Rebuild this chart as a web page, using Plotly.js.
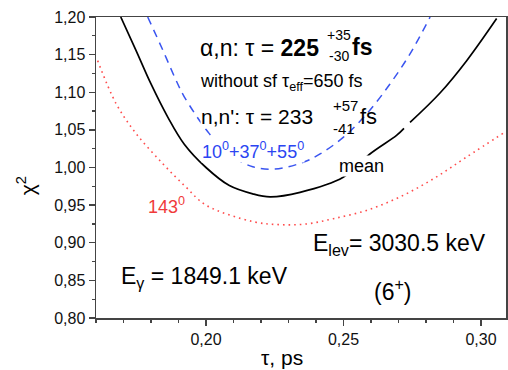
<!DOCTYPE html>
<html>
<head>
<meta charset="utf-8">
<script src="https://cdn.plot.ly/plotly-3.0.1.min.js"></script>
<style>html,body{margin:0;padding:0;background:#fff;}#chart{width:508px;height:370px;}</style>
</head>
<body>
<div id="chart"></div>
<script>
// ---- data ----
const tauMean = [0.1690,0.1745,0.1800,0.1861,0.1921,0.2000,0.2085,0.2170,0.2233,0.2342,0.2499,0.2596,0.2694,0.2720,null,0.2742,0.2851,0.2948,0.3057];
const chiMean = [1.200,1.156,1.111,1.067,1.031,1.000,0.976,0.965,0.961,0.967,0.987,1.018,1.043,1.052,null,1.060,1.099,1.142,1.198];

const tauBlue = [0.1788,0.1843,0.1891,0.1921,0.2012,0.2087,0.2170,0.2251,0.2354,0.2415,0.2499,0.2584,0.2669,0.2742,0.2815];
const chiBlue = [1.200,1.156,1.116,1.094,1.045,1.017,1.001,0.998,1.007,1.018,1.040,1.071,1.111,1.151,1.200];

const tauRed = [0.1606,0.1673,0.1746,0.1843,0.1927,0.2000,0.2172,0.2269,0.2366,0.2463,0.2584,0.2706,0.2827,0.2948,0.3087];
const chiRed = [1.142,1.085,1.045,1.005,0.974,0.950,0.928,0.924,0.925,0.932,0.943,0.961,0.985,1.014,1.047];

const xTickVals = [0.20,0.25,0.30];
const xTickText = ['0,20','0,25','0,30'];
const yTickVals = [0.80,0.85,0.90,0.95,1.00,1.05,1.10,1.15,1.20];
const yTickText = ['0,80','0,85','0,90','0,95','1,00','1,05','1,10','1,15','1,20'];

// ---- drawing ----
const FONT = 'Liberation Sans, Arial, sans-serif';
const L = 96, R = 506, T = 17, B = 317.7;
function A(text, px, py, size, extra) {
  return Object.assign({
    text: text,
    x: (px - L) / (R - L), y: (B - py) / (B - T),
    xref: 'paper', yref: 'paper',
    xanchor: 'left', yanchor: 'middle',
    showarrow: false,
    borderpad: 0,
    font: {family: FONT, size: size, color: '#000'}
  }, extra || {});
}

const traces = [
  {x: tauRed, y: chiRed, mode: 'lines', line: {color: '#ff4d4d', width: 1.6, dash: '1.6px,4px', shape: 'spline'}, hoverinfo: 'skip'},
  {x: tauBlue, y: chiBlue, mode: 'lines', line: {color: '#3a55f0', width: 1.5, dash: '8px,6px', shape: 'spline'}, hoverinfo: 'skip'},
  {x: tauMean, y: chiMean, mode: 'lines', line: {color: '#000', width: 1.7, shape: 'spline'}, connectgaps: false, hoverinfo: 'skip'}
];

const annotations = [
  A('α,n: τ = <b>225</b>', 199, 47.5, 23),
  A('+35', 326, 35, 14),
  A('-30', 328, 56, 14),
  A('<b>fs</b>', 351, 46.7, 23),
  A('without sf τ<sub>eff</sub>=650 fs', 199, 82, 18),
  A("n,n': τ = 233", 200, 116.7, 21, {bgcolor: '#fff'}),
  A('+57', 332, 105, 15),
  A('-41', 332, 128.5, 15),
  A('fs', 359, 116.7, 22),
  A('10<sup>0</sup>+37<sup>0</sup>+55<sup>0</sup>', 201, 150, 18, {bgcolor: '#fff', font: {family: FONT, size: 18, color: '#2b45f2'}}),
  A('mean', 338, 166, 18, {bgcolor: '#fff'}),
  A('143<sup>0</sup>', 147, 205.5, 18, {font: {family: FONT, size: 18, color: '#f03a3a'}}),
  A('E<sub>lev</sub>= 3030.5 keV', 312, 244, 23),
  A('E<sub>γ</sub> = 1849.1 keV', 120, 277, 23),
  A('(6<sup>+</sup>)', 373, 290, 23),
  // axis titles
  A('τ, ps', 260, 357, 21),
  {text: 'χ<sup>2</sup>', x: (26 - L) / (R - L), y: (B - 186) / (B - T), xref: 'paper', yref: 'paper',
   xanchor: 'center', yanchor: 'middle', textangle: -90, showarrow: false,
   font: {family: FONT, size: 21, color: '#000'}}
];

const axisCommon = {
  showgrid: false, zeroline: false,
  showline: true, mirror: true, linecolor: '#444', linewidth: 1.5,
  ticks: 'outside', ticklen: 6, tickwidth: 1.3, tickcolor: '#444',
  tickfont: {family: FONT, size: 16, color: '#111'}
};

const layout = {
  width: 508, height: 370,
  margin: {l: L, r: 508 - R, t: T, b: 370 - B},
  paper_bgcolor: '#fff', plot_bgcolor: '#fff',
  showlegend: false,
  xaxis: Object.assign({}, axisCommon, {
    range: [0.16, 0.3091],
    tickmode: 'array', tickvals: xTickVals, ticktext: xTickText,
    minor: {dtick: 0.01, tick0: 0.16, ticks: 'outside', ticklen: 3, tickwidth: 1.2, tickcolor: '#444', showgrid: false}
  }),
  yaxis: Object.assign({}, axisCommon, {
    range: [0.80, 1.20],
    tickmode: 'array', tickvals: yTickVals, ticktext: yTickText,
    minor: {dtick: 0.025, tick0: 0.8, ticks: 'outside', ticklen: 3, tickwidth: 1.2, tickcolor: '#444', showgrid: false}
  }),
  annotations: annotations
};

Plotly.newPlot('chart', traces, layout, {staticPlot: true, displayModeBar: false});
</script>
</body>
</html>
